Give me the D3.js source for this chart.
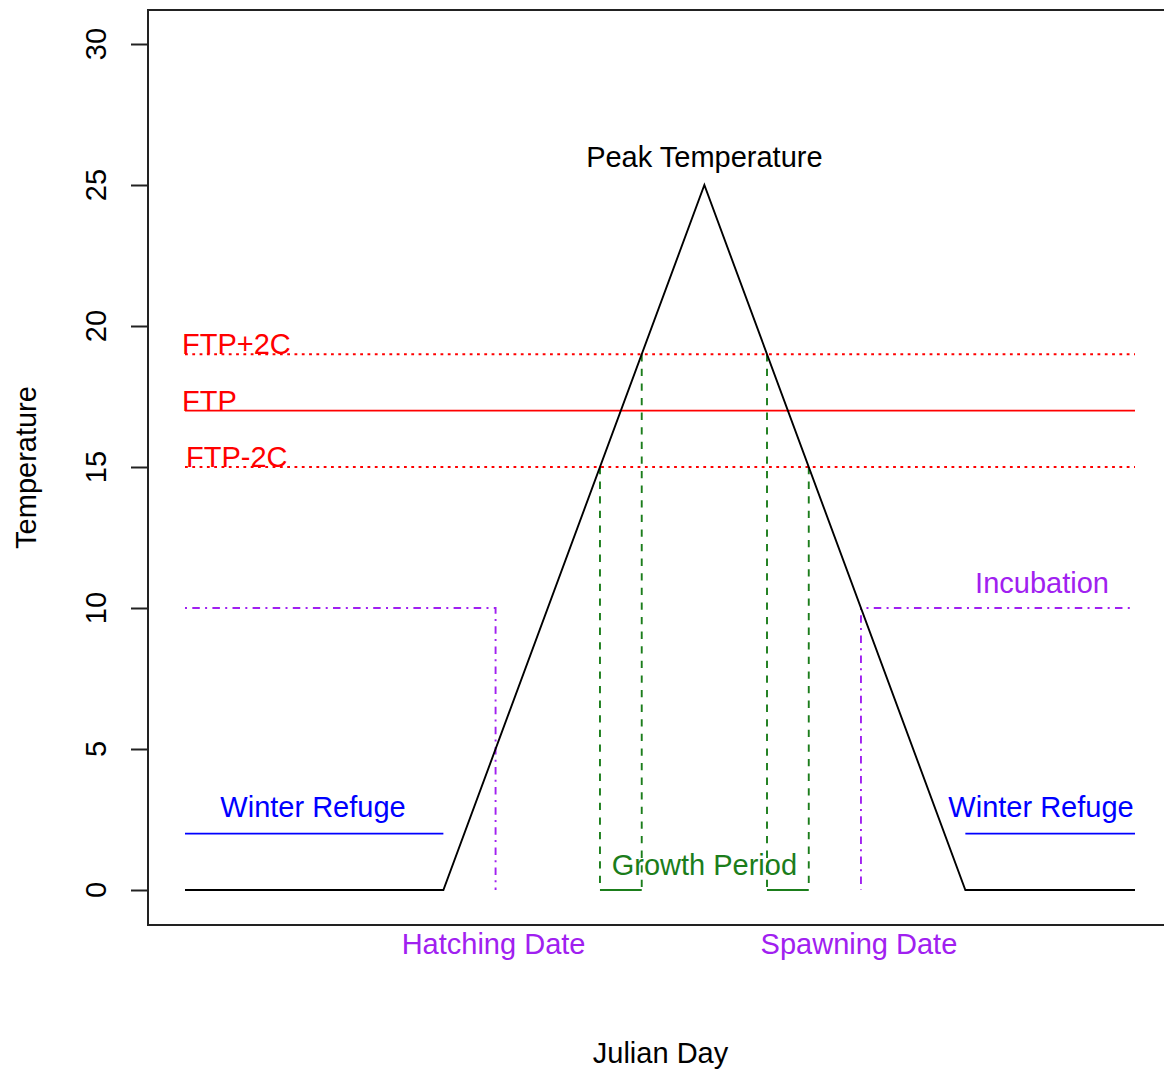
<!DOCTYPE html>
<html>
<head>
<meta charset="utf-8">
<script src="https://cdn.jsdelivr.net/npm/d3@7"></script>
<style>
  html, body { margin: 0; padding: 0; background: #fff; }
  svg text { font-family: Arial, "Liberation Sans", sans-serif; }
</style>
</head>
<body>
<svg id="chart" width="1164" height="1070"></svg>
<script>
// ---- data ----
const tempDays = [1, 100, 200, 300, 365];
const tempValues = [0, 0, 25, 0, 0];
const yTicks = [0, 5, 10, 15, 20, 25, 30];
const ftpLevels = [15, 17, 19];          // FTP-2C, FTP, FTP+2C
const ftpLabels = ["FTP-2C", "FTP", "FTP+2C"];
const ftpStyles = ["dotted", "solid", "dotted"];
const winterRefugeTemp = 2;
const winterRefugeLeft = [1, 100];
const winterRefugeRight = [300, 365];
const incubationTemp = 10;
const hatchDay = 120;
const spawnDay = 260;
const growthLeftDays = [160, 176];
const growthLeftTemps = [15, 19];
const growthRightDays = [224, 240];
const growthRightTemps = [19, 15];
const peakDay = 200, peakTemp = 25;

// ---- layout ----
const svg = d3.select("#chart");
const box = { left: 148, top: 10, right: 1173, bottom: 925 };
const x = d3.scaleLinear().domain([1, 365]).range([185, 1135]);
const y = d3.scaleLinear().domain([0, 30]).range([890, 44]);
const FS = 29;
const LW = 1.9;
const purple = "#A020F0", green = "#1b7d1b";

// plot box
svg.append("rect")
  .attr("x", box.left).attr("y", box.top)
  .attr("width", box.right - box.left).attr("height", box.bottom - box.top)
  .attr("fill", "none").attr("stroke", "#222").attr("stroke-width", 2);

// y axis ticks
const yAxis = d3.axisLeft(y).tickValues(yTicks).tickSize(17).tickFormat("");
const ga = svg.append("g").attr("transform", `translate(${box.left},0)`).call(yAxis);
ga.select(".domain").remove();
ga.selectAll(".tick line").attr("stroke", "#222").attr("stroke-width", 2);
yTicks.forEach(t => {
  svg.append("text")
    .attr("transform", `translate(106,${y(t)}) rotate(-90)`)
    .attr("text-anchor", "middle")
    .attr("font-size", FS).attr("fill", "#000")
    .text(t);
});

const line = d3.line().x(d => x(d[0])).y(d => y(d[1]));

// FTP lines
ftpLevels.forEach((lvl, i) => {
  svg.append("path")
    .attr("d", line([[1, lvl], [365, lvl]]))
    .attr("stroke", "red").attr("stroke-width", LW).attr("fill", "none")
    .attr("stroke-dasharray", ftpStyles[i] === "dotted" ? "2.8,4.5" : null);
});
svg.append("text").attr("x", 182).attr("y", y(19)).attr("font-size", FS).attr("fill", "red").text(ftpLabels[2]);
svg.append("text").attr("x", 182).attr("y", y(17)).attr("font-size", FS).attr("fill", "red").text(ftpLabels[1]);
svg.append("text").attr("x", 186).attr("y", y(15)).attr("font-size", FS).attr("fill", "red").text(ftpLabels[0]);

// Winter refuge
[winterRefugeLeft, winterRefugeRight].forEach(r => {
  svg.append("path")
    .attr("d", line([[r[0], winterRefugeTemp], [r[1], winterRefugeTemp]]))
    .attr("stroke", "blue").attr("stroke-width", LW).attr("fill", "none");
});
svg.append("text").attr("x", 313).attr("y", y(winterRefugeTemp) - 17)
  .attr("text-anchor", "middle").attr("font-size", FS).attr("fill", "blue").text("Winter Refuge");
svg.append("text").attr("x", 1041).attr("y", y(winterRefugeTemp) - 17)
  .attr("text-anchor", "middle").attr("font-size", FS).attr("fill", "blue").text("Winter Refuge");

// Incubation (dot-dash purple)
const dd = "2,5.3,7.5,5.3";
svg.append("path")
  .attr("d", line([[1, incubationTemp], [hatchDay, incubationTemp], [hatchDay, 0]]))
  .attr("stroke", purple).attr("stroke-width", LW).attr("fill", "none").attr("stroke-dasharray", dd);
svg.append("path")
  .attr("d", line([[363, incubationTemp], [spawnDay, incubationTemp]]))
  .attr("stroke", purple).attr("stroke-width", LW).attr("fill", "none").attr("stroke-dasharray", dd);
svg.append("path")
  .attr("d", line([[spawnDay, incubationTemp], [spawnDay, 0]]))
  .attr("stroke", purple).attr("stroke-width", LW).attr("fill", "none").attr("stroke-dasharray", dd);
svg.append("text").attr("x", 1042).attr("y", y(incubationTemp) - 15)
  .attr("text-anchor", "middle").attr("font-size", FS).attr("fill", purple).text("Incubation");

// Growth period (dashed green verticals, solid base)
[[growthLeftDays, growthLeftTemps], [growthRightDays, growthRightTemps]].forEach(([ds, ts]) => {
  ds.forEach((d, i) => {
    svg.append("path").attr("d", line([[d, ts[i]], [d, 0]]))
      .attr("stroke", green).attr("stroke-width", LW).attr("fill", "none")
      .attr("stroke-dasharray", "7.3,7.3");
  });
  svg.append("path").attr("d", line([[ds[0], 0], [ds[1], 0]]))
    .attr("stroke", green).attr("stroke-width", LW).attr("fill", "none");
});
svg.append("text").attr("x", x(peakDay)).attr("y", y(0) - 15)
  .attr("text-anchor", "middle").attr("font-size", FS).attr("fill", green).text("Growth Period");

// Temperature curve
svg.append("path")
  .attr("d", line(tempDays.map((d, i) => [d, tempValues[i]])))
  .attr("stroke", "#000").attr("stroke-width", LW).attr("fill", "none");
svg.append("text").attr("x", x(peakDay)).attr("y", y(peakTemp) - 18)
  .attr("text-anchor", "middle").attr("font-size", FS).attr("fill", "#000").text("Peak Temperature");

// Bottom date labels
svg.append("text").attr("x", x(hatchDay) - 2).attr("y", 954)
  .attr("text-anchor", "middle").attr("font-size", FS).attr("fill", purple).text("Hatching Date");
svg.append("text").attr("x", x(spawnDay) - 2).attr("y", 954)
  .attr("text-anchor", "middle").attr("font-size", FS).attr("fill", purple).text("Spawning Date");

// Axis titles
svg.append("text").attr("x", (box.left + box.right) / 2).attr("y", 1063)
  .attr("text-anchor", "middle").attr("font-size", FS).attr("fill", "#000").text("Julian Day");
svg.append("text")
  .attr("transform", `translate(36,${(box.top + box.bottom) / 2}) rotate(-90)`)
  .attr("text-anchor", "middle").attr("font-size", FS).attr("fill", "#000").text("Temperature");
</script>
</body>
</html>
